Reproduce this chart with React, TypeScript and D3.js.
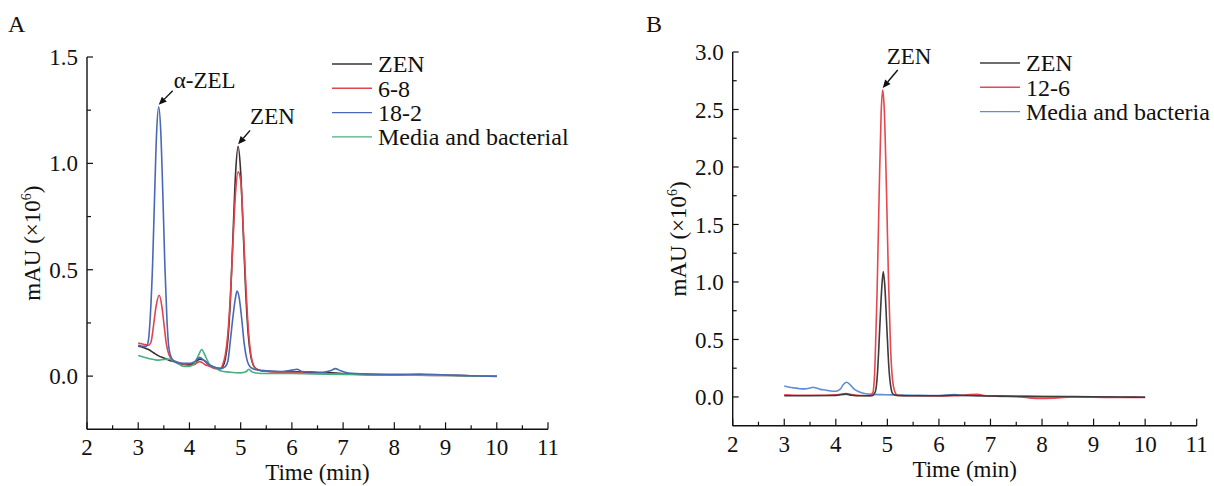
import React from "react";
import * as d3 from "d3";

type Pt = [number, number];

// ---------- Panel A data (time in min, signal in mAU ×10^6) ----------
const aZen: Pt[] = [
  [3.0, 0.14], [3.1, 0.135], [3.2, 0.125], [3.3, 0.11], [3.4, 0.095], [3.5, 0.085], [3.6, 0.075],
  [3.7, 0.068], [3.8, 0.06], [3.9, 0.055], [4.0, 0.055], [4.1, 0.062], [4.2, 0.08], [4.28, 0.075],
  [4.4, 0.05], [4.5, 0.04], [4.6, 0.035], [4.65, 0.045], [4.7, 0.08], [4.75, 0.17], [4.8, 0.36],
  [4.85, 0.66], [4.9, 0.95], [4.95, 1.08], [5.0, 0.96], [5.05, 0.68], [5.1, 0.39], [5.15, 0.19],
  [5.2, 0.09], [5.25, 0.05], [5.3, 0.035], [5.4, 0.025], [5.6, 0.022], [5.8, 0.02], [6.0, 0.022],
  [6.2, 0.018], [6.4, 0.016], [6.6, 0.014], [6.8, 0.016], [7.0, 0.012], [7.5, 0.008], [8.0, 0.006],
  [8.5, 0.006], [9.0, 0.004], [9.5, 0.002], [10.0, 0.0],
];
const a68: Pt[] = [
  [3.0, 0.155], [3.1, 0.15], [3.2, 0.145], [3.25, 0.16], [3.3, 0.24], [3.35, 0.33], [3.41, 0.38],
  [3.46, 0.33], [3.5, 0.25], [3.55, 0.15], [3.6, 0.1], [3.65, 0.08], [3.7, 0.072], [3.8, 0.063],
  [3.9, 0.055], [4.0, 0.05], [4.1, 0.055], [4.2, 0.068], [4.3, 0.055], [4.4, 0.045], [4.5, 0.035],
  [4.6, 0.035], [4.65, 0.055], [4.7, 0.1], [4.75, 0.2], [4.8, 0.38], [4.85, 0.63], [4.9, 0.86],
  [4.95, 0.96], [5.0, 0.92], [5.05, 0.7], [5.1, 0.43], [5.15, 0.22], [5.2, 0.1], [5.25, 0.05],
  [5.3, 0.035], [5.4, 0.025], [5.6, 0.02], [5.8, 0.018], [6.0, 0.018], [6.2, 0.015], [6.4, 0.012],
  [6.6, 0.012], [6.8, 0.01], [7.0, 0.01], [7.5, 0.006], [8.0, 0.005], [8.5, 0.004], [9.0, 0.003],
  [9.5, 0.002], [10.0, 0.0],
];
const a182: Pt[] = [
  [3.0, 0.145], [3.1, 0.14], [3.16, 0.14], [3.2, 0.17], [3.24, 0.3], [3.28, 0.52], [3.32, 0.85],
  [3.36, 1.15], [3.4, 1.266], [3.44, 1.15], [3.48, 0.86], [3.52, 0.52], [3.56, 0.27], [3.6, 0.13],
  [3.65, 0.085], [3.7, 0.07], [3.8, 0.062], [3.9, 0.06], [4.0, 0.06], [4.1, 0.068], [4.2, 0.088],
  [4.3, 0.07], [4.4, 0.05], [4.5, 0.04], [4.6, 0.035], [4.7, 0.045], [4.75, 0.07], [4.8, 0.17],
  [4.85, 0.28], [4.9, 0.37], [4.93, 0.4], [4.97, 0.37], [5.02, 0.27], [5.07, 0.15], [5.12, 0.08],
  [5.2, 0.04], [5.3, 0.03], [5.5, 0.025], [5.8, 0.022], [6.0, 0.028], [6.1, 0.032], [6.2, 0.022],
  [6.4, 0.02], [6.6, 0.018], [6.75, 0.025], [6.85, 0.035], [6.95, 0.025], [7.1, 0.015], [7.5, 0.01],
  [8.0, 0.008], [8.5, 0.01], [9.0, 0.005], [9.5, 0.002], [10.0, -0.002],
];
const aMedia: Pt[] = [
  [3.0, 0.097], [3.1, 0.09], [3.2, 0.083], [3.3, 0.078], [3.4, 0.075], [3.5, 0.078], [3.6, 0.08],
  [3.7, 0.07], [3.8, 0.055], [3.9, 0.045], [4.0, 0.045], [4.1, 0.06], [4.18, 0.1], [4.24, 0.125],
  [4.3, 0.1], [4.38, 0.06], [4.5, 0.04], [4.6, 0.025], [4.8, 0.018], [5.0, 0.015], [5.1, 0.02],
  [5.16, 0.032], [5.22, 0.02], [5.3, 0.015], [5.5, 0.012], [6.0, 0.012], [6.5, 0.01], [7.0, 0.008],
  [8.0, 0.005], [9.0, 0.003], [10.0, 0.0],
];

// ---------- Panel B data ----------
const bZen: Pt[] = [
  [3.0, 0.01], [3.5, 0.01], [4.0, 0.012], [4.2, 0.025], [4.3, 0.015], [4.5, 0.01], [4.7, 0.01],
  [4.77, 0.05], [4.81, 0.22], [4.85, 0.58], [4.89, 0.94], [4.92, 1.09], [4.95, 0.97], [4.99, 0.6],
  [5.03, 0.25], [5.07, 0.08], [5.11, 0.025], [5.2, 0.012], [5.5, 0.01], [6.0, 0.01], [6.3, 0.015],
  [6.6, 0.012], [7.0, 0.008], [7.5, 0.006], [8.0, 0.004], [8.5, 0.004], [9.0, 0.002], [9.5, 0.0],
  [10.0, -0.003],
];
const b126: Pt[] = [
  [3.0, 0.018], [3.2, 0.015], [3.5, 0.015], [3.8, 0.015], [4.0, 0.018], [4.2, 0.03], [4.3, 0.02],
  [4.5, 0.012], [4.65, 0.01], [4.72, 0.04], [4.76, 0.28], [4.8, 0.9], [4.84, 1.75], [4.88, 2.48],
  [4.91, 2.67], [4.94, 2.5], [4.98, 1.85], [5.02, 1.05], [5.06, 0.45], [5.1, 0.15], [5.15, 0.04],
  [5.2, 0.012], [5.5, 0.01], [6.0, 0.008], [6.3, 0.01], [6.6, 0.02], [6.75, 0.022], [6.9, 0.01],
  [7.2, 0.005], [7.6, 0.0], [7.8, -0.01], [8.0, -0.012], [8.3, -0.008], [8.6, 0.0], [9.0, -0.003],
  [9.5, -0.005], [10.0, -0.005],
];
const bMedia: Pt[] = [
  [3.0, 0.095], [3.1, 0.085], [3.2, 0.078], [3.3, 0.072], [3.4, 0.07], [3.5, 0.078], [3.56, 0.085],
  [3.62, 0.078], [3.7, 0.066], [3.8, 0.06], [3.9, 0.052], [4.0, 0.05], [4.08, 0.065], [4.15, 0.11],
  [4.21, 0.128], [4.27, 0.11], [4.35, 0.07], [4.45, 0.045], [4.55, 0.03], [4.7, 0.022], [4.9, 0.02],
  [5.1, 0.018], [5.5, 0.015], [6.0, 0.012], [6.3, 0.02], [6.5, 0.012], [7.0, 0.01], [7.5, 0.005],
  [8.0, 0.003], [8.5, 0.002], [9.0, 0.0], [9.5, -0.002], [10.0, -0.003],
];

const xTicks = [2, 3, 4, 5, 6, 7, 8, 9, 10, 11];
const aYTicks = [0, 0.5, 1.0, 1.5];
const bYTicks = [0, 0.5, 1.0, 1.5, 2.0, 2.5, 3.0];

const aLegend = ["ZEN", "6-8", "18-2", "Media and bacterial"];
const bLegend = ["ZEN", "12-6", "Media and bacteria"];

const FONT = "'Liberation Serif', 'Times New Roman', serif";

interface Series { data: Pt[]; color: string; name: string; }
interface Ann { label: string; t: number; v: number; dx: number; dy: number; tx: number; ty: number; }

interface PanelProps {
  letter: string;
  letterX: number;
  left: number; right: number; top: number; bottom: number;
  yDomain: [number, number];
  yTicks: number[];
  series: Series[];
  drawOrder: number[];
  legendX: number; legendY: number;
  annotations: Ann[];
}

function Panel(p: PanelProps) {
  const x = d3.scaleLinear().domain([2, 11]).range([p.left, p.right]);
  const y = d3.scaleLinear().domain(p.yDomain).range([p.bottom, p.top]);
  const line = d3.line<Pt>().x(d => x(d[0])).y(d => y(d[1])).curve(d3.curveMonotoneX);
  const minorX = d3.range(2.5, 11, 1);
  const minorY = d3.range(0.25, p.yDomain[1], 0.5);
  const fmt = d3.format(".1f");
  return (
    <g fontFamily={FONT} fill="#111">
      <text x={p.letterX} y={31.5} fontSize={24}>{p.letter}</text>
      {p.drawOrder.map(i => {
        const s = p.series[i];
        return <path key={i} d={line(s.data) || ""} fill="none" stroke={s.color} strokeWidth={1.6} strokeLinejoin="round" />;
      })}
      {/* axes */}
      <line x1={p.left} x2={p.left} y1={p.top} y2={p.bottom} stroke="#111" strokeWidth={1.4} />
      <line x1={p.left} x2={p.right} y1={p.bottom} y2={p.bottom} stroke="#111" strokeWidth={1.4} />
      {xTicks.map(t => (
        <g key={"xt" + t}>
          <line x1={x(t)} x2={x(t)} y1={p.bottom} y2={p.bottom - 7} stroke="#111" strokeWidth={1.2} />
          <text x={x(t)} y={p.bottom + 26} fontSize={23} textAnchor="middle">{t}</text>
        </g>
      ))}
      {minorX.map(t => (
        <line key={"xm" + t} x1={x(t)} x2={x(t)} y1={p.bottom} y2={p.bottom - 4} stroke="#111" strokeWidth={1.2} />
      ))}
      {p.yTicks.map(v => (
        <g key={"yt" + v}>
          <line x1={p.left} x2={p.left + 6} y1={y(v)} y2={y(v)} stroke="#111" strokeWidth={1.2} />
          <text x={p.left - 9} y={y(v)} dy="0.35em" fontSize={23} textAnchor="end">{fmt(v)}</text>
        </g>
      ))}
      {minorY.map(v => (
        <line key={"ym" + v} x1={p.left} x2={p.left + 4} y1={y(v)} y2={y(v)} stroke="#111" strokeWidth={1.2} />
      ))}
      <text x={(p.left + p.right) / 2} y={p.bottom + 51} fontSize={23} textAnchor="middle">Time (min)</text>
      <text transform={`translate(${p.left - 47},${(p.top + p.bottom) / 2}) rotate(-90)`} fontSize={23} textAnchor="middle">
        mAU (×10<tspan fontSize={14} dy={-9}>6</tspan><tspan dy={9}>)</tspan>
      </text>
      {/* legend */}
      {p.series.map((s, i) => (
        <g key={"lg" + i}>
          <line x1={p.legendX} x2={p.legendX + 40} y1={p.legendY + i * 24.3} y2={p.legendY + i * 24.3} stroke={s.color} strokeWidth={1.4} />
          <text x={p.legendX + 46} y={p.legendY + i * 24.3} dy="0.35em" fontSize={24}>{s.name}</text>
        </g>
      ))}
      {/* annotations */}
      {p.annotations.map((a, i) => {
        const tx = x(a.t), ty = y(a.v) - 2;
        const sx = tx + a.dx, sy = ty + a.dy;
        const ang = Math.atan2(ty - sy, tx - sx);
        const hl = 8, hw = 3.5;
        const bx = tx - hl * Math.cos(ang), by = ty - hl * Math.sin(ang);
        const px = -Math.sin(ang) * hw, py = Math.cos(ang) * hw;
        return (
          <g key={"an" + i}>
            <line x1={sx} y1={sy} x2={bx} y2={by} stroke="#111" strokeWidth={1.4} />
            <path d={`M${tx},${ty}L${bx + px},${by + py}L${bx - px},${by - py}Z`} fill="#111" />
            <text x={tx + a.tx} y={ty + a.ty} fontSize={23}>{a.label}</text>
          </g>
        );
      })}
    </g>
  );
}

export default function App() {
  const seriesA: Series[] = [
    { data: aZen, color: "#3d3030", name: aLegend[0] },
    { data: a68, color: "#e0454c", name: aLegend[1] },
    { data: a182, color: "#4a68b5", name: aLegend[2] },
    { data: aMedia, color: "#46b07e", name: aLegend[3] },
  ];
  const seriesB: Series[] = [
    { data: bZen, color: "#3c3c3c", name: bLegend[0] },
    { data: b126, color: "#e8474d", name: bLegend[1] },
    { data: bMedia, color: "#5b8ed6", name: bLegend[2] },
  ];
  return (
    <svg width={1214} height={486} style={{ position: "absolute", left: 0, top: 0, background: "#fff" }}>
      <Panel
        letter="A" letterX={8}
        left={87} right={548} top={57} bottom={429.3}
        yDomain={[-0.25, 1.5]} yTicks={aYTicks}
        series={seriesA} drawOrder={[0, 1, 3, 2]}
        legendX={332} legendY={64}
        annotations={[
          { label: "α-ZEL", t: 3.4, v: 1.266, dx: 14, dy: -14, tx: 15, ty: -17 },
          { label: "ZEN", t: 4.95, v: 1.08, dx: 12, dy: -14, tx: 12, ty: -20 },
        ]}
      />
      <Panel
        letter="B" letterX={646}
        left={732.7} right={1196.7} top={52} bottom={425.7}
        yDomain={[-0.25, 3.0]} yTicks={bYTicks}
        series={seriesB} drawOrder={[2, 1, 0]}
        legendX={980} legendY={63}
        annotations={[
          { label: "ZEN", t: 4.91, v: 2.67, dx: 15, dy: -18, tx: 4, ty: -24 },
        ]}
      />
    </svg>
  );
}
